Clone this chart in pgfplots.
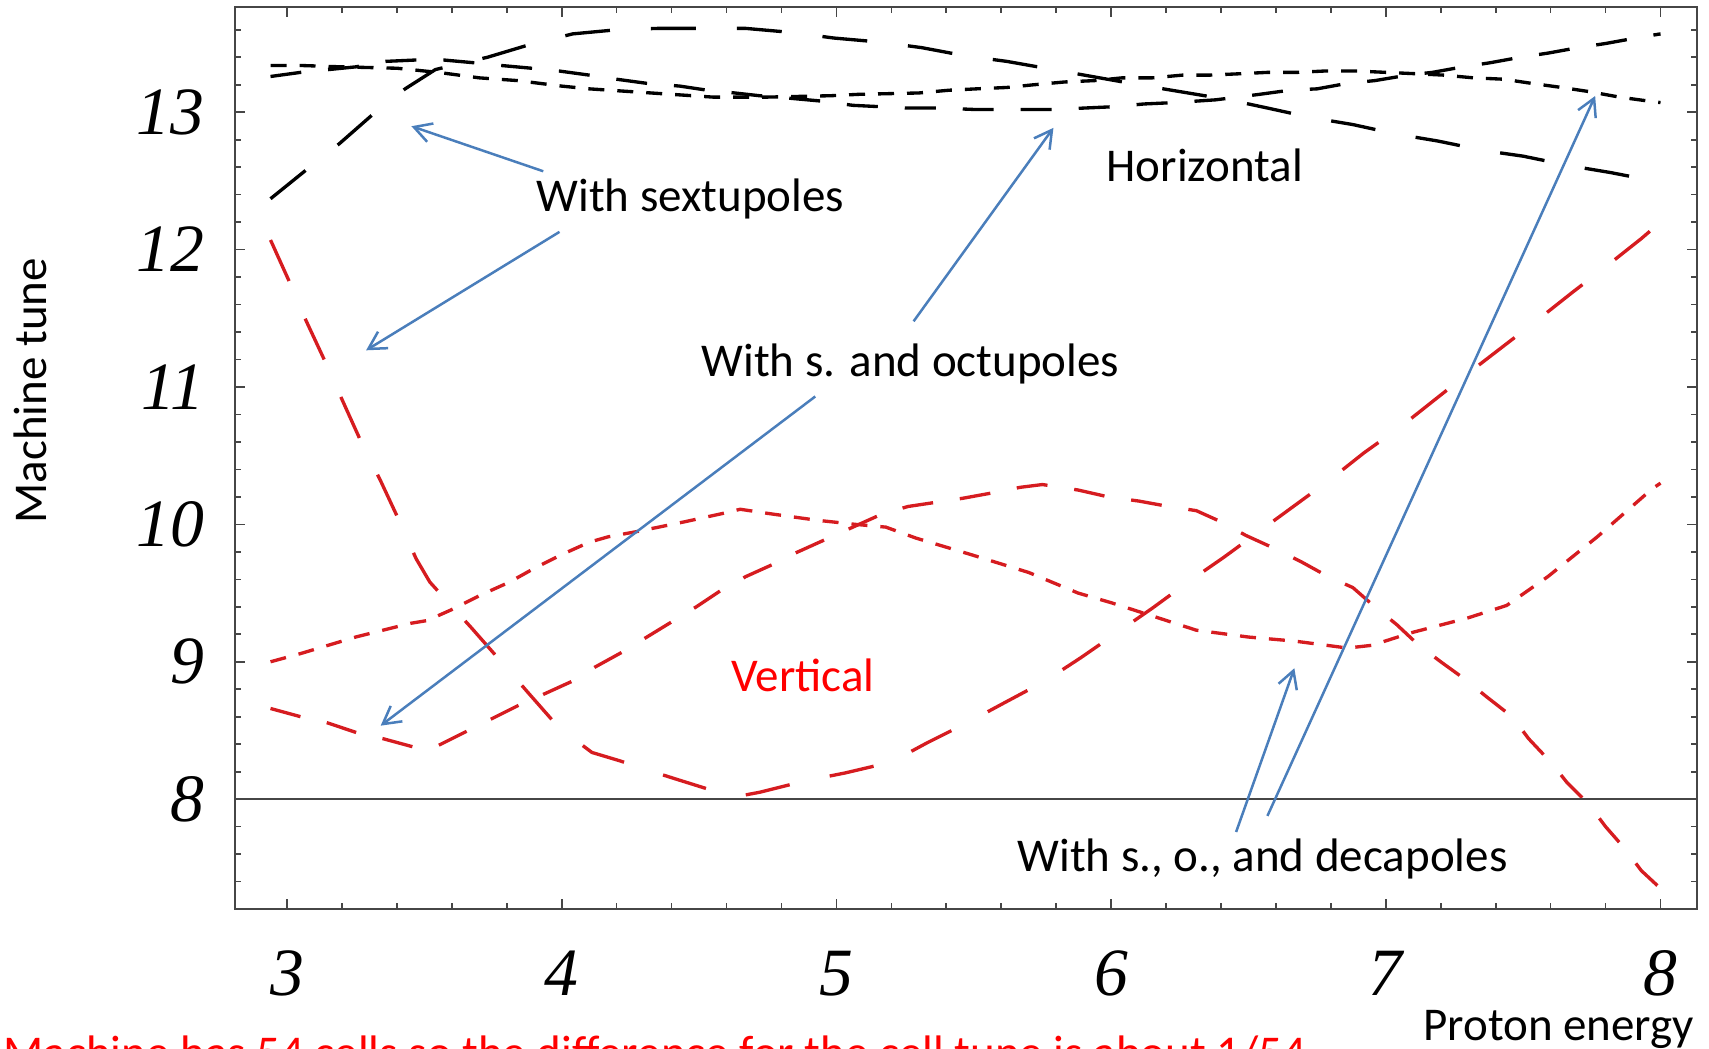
\documentclass[border=0pt]{standalone}
\usepackage{fontspec}
\setmainfont{Carlito}
\newfontfamily\tnr{Liberation Serif}
\usepackage{pgfplots}
\pgfplotsset{compat=1.18}
\usetikzlibrary{arrows.meta}

\definecolor{curvered}{RGB}{214,28,32}
\definecolor{arrowblue}{RGB}{74,126,187}
\definecolor{framegray}{RGB}{70,70,70}

\tikzset{
  longdash/.style={dash pattern=on 13.5pt off 12.3pt},
  middash/.style={dash pattern=on 9.3pt off 8.1pt},
  shortdash/.style={dash pattern=on 4.8pt off 3.9pt},
  note/.style={font=\fontsize{14.1pt}{17pt}\selectfont, inner sep=0pt, anchor=base west},
  pointer/.style={arrowblue, line width=0.75pt, -{Straight Barb[length=5.2pt,width=5.8pt]}},
}

\begin{document}
\begin{tikzpicture}
\path[use as bounding box] (0,0) rectangle (512.7pt,314.4pt);
\begin{axis}[
  at={(70.5pt,41.6pt)}, anchor=south west,
  scale only axis, width=438.6pt, height=270.8pt,
  xmin=2.8107, xmax=8.1329, ymin=7.198, ymax=13.768,
  clip=false,
  axis line style={framegray, line width=0.6pt},
  xtick={3,4,5,6,7,8}, ytick={8,9,10,11,12,13},
  minor x tick num=4,
  minor ytick={7.4,7.6,7.8,8.2,8.4,8.6,8.8,9.2,9.4,9.6,9.8,10.2,10.4,10.6,10.8,11.2,11.4,11.6,11.8,12.2,12.4,12.6,12.8,13.2,13.4,13.6},
  xtick pos=both, ytick pos=both,
  tick align=inside,
  major tick length=3pt, minor tick length=1.8pt,
  tick style={framegray, line width=0.5pt},
  /pgf/number format/assume math mode=true,
  ticklabel style={font=\tnr\itshape\fontsize{20.3pt}{24pt}\selectfont, inner sep=0pt},
  xticklabel style={anchor=base, yshift=-25.7pt},
  yticklabel style={anchor=east, xshift=-9pt},
]

% horizontal tunes (black)
\addplot[black, line width=1pt, longdash] coordinates {
(2.94,12.37) (3.07,12.58) (3.19,12.77) (3.31,12.98) (3.43,13.17) (3.54,13.31) (3.56,13.32)
(3.73,13.40) (3.88,13.49) (4.04,13.57) (4.20,13.60) (4.35,13.61) (4.51,13.61) (4.67,13.61)
(4.84,13.58) (4.99,13.54) (5.16,13.51) (5.31,13.47) (5.47,13.41) (5.62,13.37) (5.79,13.31)
(5.93,13.26) (6.10,13.20) (6.25,13.15) (6.43,13.09) (6.57,13.03) (6.73,12.96) (6.88,12.91)
(7.04,12.84) (7.19,12.79) (7.36,12.72) (7.50,12.68) (7.67,12.61) (7.82,12.56) (8.00,12.49)};

\addplot[black, line width=1pt, middash] coordinates {
(2.94,13.26) (3.05,13.29) (3.15,13.31) (3.25,13.33) (3.36,13.37) (3.47,13.38) (3.57,13.38)
(3.68,13.36) (3.78,13.34) (3.89,13.32) (3.99,13.30) (4.10,13.27) (4.20,13.24) (4.31,13.21)
(4.43,13.19) (4.53,13.16) (4.63,13.14) (4.72,13.12) (4.84,13.10) (4.95,13.08) (5.06,13.05)
(5.16,13.04) (5.26,13.03) (5.38,13.03) (5.50,13.02) (5.60,13.02) (5.70,13.02) (5.80,13.02)
(5.90,13.03) (6.01,13.04) (6.12,13.06) (6.23,13.07) (6.38,13.09) (6.54,13.13) (6.65,13.16)
(6.75,13.17) (6.86,13.21) (6.96,13.23) (7.08,13.27) (7.17,13.29) (7.28,13.33) (7.38,13.36)
(7.49,13.40) (7.59,13.43) (7.70,13.47) (7.80,13.50) (7.91,13.54) (8.00,13.57)};

\addplot[black, line width=1pt, shortdash] coordinates {
(2.94,13.34) (3.05,13.34) (3.20,13.33) (3.40,13.32) (3.55,13.29) (3.70,13.25) (3.84,13.23)
(4.00,13.19) (4.10,13.17) (4.25,13.15) (4.40,13.13) (4.55,13.11) (4.75,13.11) (4.98,13.12)
(5.08,13.13) (5.30,13.14) (5.41,13.16) (5.51,13.17) (5.62,13.18) (5.72,13.20) (5.83,13.22)
(5.94,13.23) (6.04,13.25) (6.15,13.25) (6.26,13.27) (6.36,13.27) (6.47,13.28) (6.57,13.29)
(6.68,13.29) (6.78,13.30) (6.89,13.30) (7.00,13.29) (7.11,13.28) (7.21,13.27) (7.32,13.25)
(7.43,13.24) (7.53,13.21) (7.64,13.18) (7.74,13.15) (7.85,13.11) (7.96,13.08) (8.00,13.07)};

% vertical tunes (red)
\addplot[curvered, line width=1pt, longdash] coordinates {
(2.94,12.07) (3.01,11.76) (3.07,11.48) (3.14,11.18) (3.20,10.91) (3.27,10.60) (3.34,10.32)
(3.41,10.02) (3.47,9.75) (3.52,9.58) (3.57,9.47) (3.67,9.25) (3.78,9.00) (3.88,8.77)
(3.99,8.52) (4.11,8.34) (4.21,8.28) (4.30,8.22) (4.41,8.15) (4.57,8.05) (4.64,8.02)
(4.72,8.05) (4.88,8.13) (5.03,8.19) (5.20,8.27) (5.33,8.41) (5.48,8.56) (5.61,8.70)
(5.76,8.86) (5.89,9.03) (6.02,9.21) (6.15,9.39) (6.28,9.58) (6.41,9.76) (6.54,9.95)
(6.67,10.14) (6.80,10.33) (6.92,10.52) (7.06,10.72) (7.18,10.91) (7.30,11.10) (7.43,11.30)
(7.56,11.50) (7.68,11.69) (7.81,11.89) (7.93,12.08) (8.00,12.20)};

\addplot[curvered, line width=1pt, middash] coordinates {
(2.94,8.66) (3.05,8.60) (3.14,8.56) (3.26,8.48) (3.35,8.44) (3.46,8.38) (3.50,8.37)
(3.55,8.39) (3.65,8.49) (3.74,8.58) (3.86,8.70) (3.93,8.76) (4.04,8.86) (4.12,8.96)
(4.22,9.07) (4.31,9.18) (4.40,9.29) (4.49,9.40) (4.58,9.52) (4.67,9.62) (4.77,9.71)
(4.86,9.80) (4.96,9.89) (5.06,9.98) (5.16,10.07) (5.26,10.13) (5.36,10.16) (5.46,10.19)
(5.57,10.23) (5.67,10.27) (5.75,10.29) (5.88,10.25) (5.99,10.20) (6.10,10.17) (6.21,10.13)
(6.31,10.10) (6.41,10.01) (6.49,9.92) (6.60,9.82) (6.69,9.73) (6.79,9.62) (6.88,9.54)
(6.96,9.40) (7.04,9.27) (7.12,9.12) (7.20,9.00) (7.29,8.87) (7.37,8.74) (7.46,8.60)
(7.52,8.44) (7.60,8.27) (7.66,8.12) (7.74,7.96) (7.80,7.80) (7.87,7.64) (7.93,7.48) (8.00,7.35)};

\addplot[curvered, line width=1pt, shortdash] coordinates {
(2.94,9.00) (3.05,9.06) (3.25,9.18) (3.45,9.28) (3.51,9.30) (3.60,9.38) (3.71,9.49)
(3.81,9.58) (3.90,9.68) (4.00,9.78) (4.10,9.87) (4.17,9.91) (4.28,9.95) (4.45,10.02)
(4.61,10.09) (4.65,10.11) (4.75,10.08) (4.93,10.03) (5.07,10.00) (5.18,9.98) (5.29,9.90)
(5.49,9.78) (5.70,9.65) (5.88,9.50) (6.00,9.43) (6.14,9.34) (6.31,9.23) (6.50,9.18)
(6.67,9.15) (6.86,9.10) (6.95,9.12) (7.09,9.21) (7.30,9.32) (7.44,9.41) (7.59,9.62)
(7.77,9.91) (7.97,10.26) (8.00,10.30)};

% integer tune 8
\draw[framegray, line width=0.45pt] (axis cs:2.8107,8) -- (axis cs:8.1329,8);

% pointers
\draw[pointer] (axis cs:3.933,12.570) -- (axis cs:3.453,12.898);
\draw[pointer] (axis cs:3.992,12.129) -- (axis cs:3.288,11.267);
\draw[pointer] (axis cs:5.281,11.478) -- (axis cs:5.790,12.886);
\draw[pointer] (axis cs:4.923,10.931) -- (axis cs:3.341,8.535);
\draw[pointer] (axis cs:6.455,7.761) -- (axis cs:6.667,8.953);
\draw[pointer] (axis cs:6.569,7.878) -- (axis cs:7.762,13.118);

% labels
\node[note] at (axis cs:3.906,12.277) {With sextupoles};
\node[note] at (axis cs:5.981,12.495) {Horizontal};
\node[note] at (axis cs:4.507,11.077) {With s. and octupoles};
\node[note, text=red] at (axis cs:4.615,8.783) {Vertical};
\node[note] at (axis cs:5.657,7.472) {With s., o., and decapoles};
\node[note] at (axis cs:7.134,6.246) {Proton energy};
\node[note, anchor=base, rotate=90] at (axis cs:2.123,10.973) {Machine tune};
\node[note, text=red] at (axis cs:1.966,6.040) {Machine has 54 cells so the difference for the cell tune is about 1/54};
\end{axis}
\end{tikzpicture}
\end{document}
